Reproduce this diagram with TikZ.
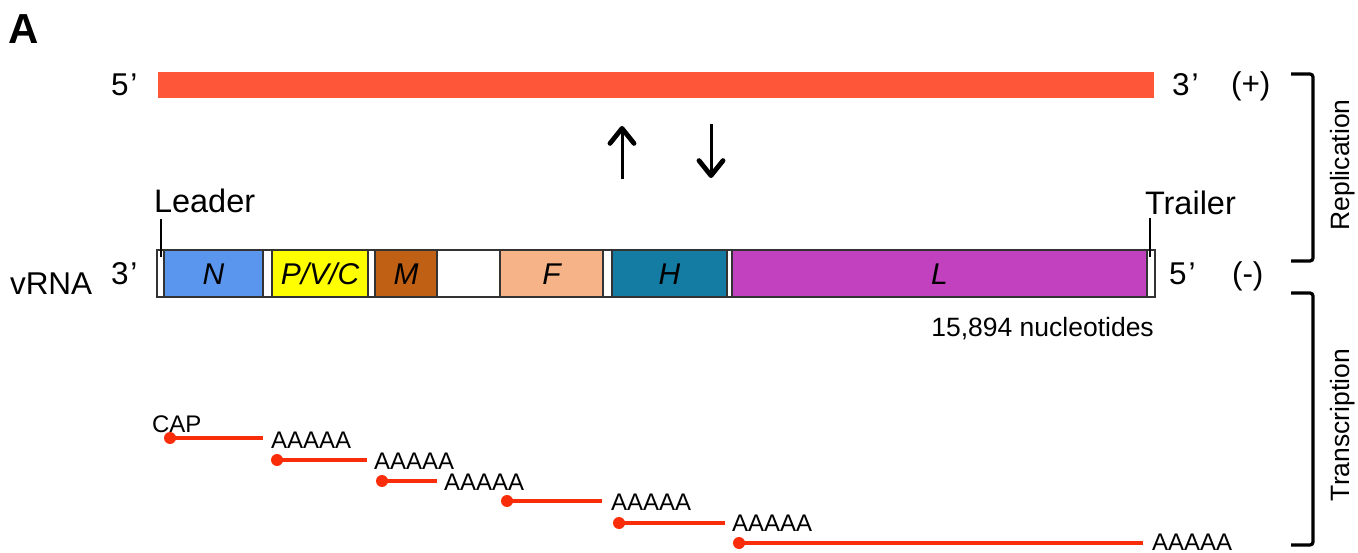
\documentclass[tikz,border=0pt]{standalone}
\usepackage{fontspec}
\setmainfont{Liberation Sans}
\usetikzlibrary{arrows.meta}
\definecolor{plusred}{RGB}{254,86,57}
\definecolor{txred}{RGB}{250,45,10}
\definecolor{gN}{RGB}{91,150,238}
\definecolor{gP}{RGB}{255,255,0}
\definecolor{gM}{RGB}{192,96,20}
\definecolor{gF}{RGB}{247,179,136}
\definecolor{gH}{RGB}{20,123,163}
\definecolor{gL}{RGB}{194,65,190}
\newcommand{\fbig}{\fontsize{31.5}{37}\selectfont}
\newcommand{\flead}{\fontsize{32.5}{38}\selectfont}
\newcommand{\fgene}{\fontsize{30}{36}\selectfont\itshape}
\newcommand{\fmid}{\fontsize{26.5}{32}\selectfont}
\newcommand{\fsmall}{\fontsize{24}{29}\selectfont}
\tikzset{
  lbl/.style={inner sep=0pt, outer sep=0pt, anchor=base west},
  gene/.style={draw=black!80, line width=1.4pt, inner sep=0pt, outer sep=0pt,
    minimum height=47pt, text height=21.5pt, text depth=0pt, font=\fgene},
  tx/.style={draw=txred, line width=4pt},
  dot/.style={circle, fill=txred, inner sep=0pt, minimum size=12pt},
  aaa/.style={lbl, font=\fsmall},
  brk/.style={line width=3.2pt, rounded corners=3pt},
  varrow/.style={line width=3pt, -{Straight Barb[length=15pt, width=24pt, line width=4.8pt, round]}},
  tick/.style={line width=1.6pt}
}
\begin{document}
\begin{tikzpicture}[x=1pt, y=-1pt]
\useasboundingbox (0,0) rectangle (1358,553);
% panel label
\node[lbl, font=\fontsize{42}{50}\selectfont\bfseries] (panel) at (9,44) {A};
% (+) strand
\node[draw=none, fill=plusred, minimum width=996pt, minimum height=26pt, inner sep=0pt, outer sep=0pt] (plus) at (656,85) {};
\node[lbl, font=\fbig] (p5) at (111,96) {5\kern2pt’};
\node[lbl, font=\fbig] (p3) at (1172,96) {3\kern2pt’};
\node[lbl, font=\fbig] (pp) at (1231,95) {(+)};
% replication arrows
\coordinate (ua1) at (622,179);
\coordinate (ua2) at (622,126);
\coordinate (da1) at (711,124);
\coordinate (da2) at (711,178);
\draw[varrow] (ua1) -- (ua2);
\draw[varrow] (da1) -- (da2);
% genome
\node[gene, minimum width=7pt] (lead) at (160.5,273.5) {};
\node[gene, fill=gN, minimum width=99pt] (N) at (213.5,273.5) {N};
\node[gene, minimum width=9pt] (ig1) at (267.5,273.5) {};
\node[gene, fill=gP, minimum width=96pt] (P) at (320,273.5) {P/V/C};
\node[gene, minimum width=7pt] (ig2) at (371.5,273.5) {};
\node[gene, fill=gM, minimum width=62pt] (M) at (406,273.5) {M};
\node[gene, minimum width=63pt] (ig3) at (468.5,273.5) {};
\node[gene, fill=gF, minimum width=103pt] (F) at (551.5,273.5) {F};
\node[gene, minimum width=9pt] (ig4) at (607.5,273.5) {};
\node[gene, fill=gH, minimum width=115pt] (H) at (669.5,273.5) {H};
\node[gene, minimum width=5pt] (ig5) at (729.5,273.5) {};
\node[gene, fill=gL, minimum width=415pt] (L) at (939.5,273.5) {L};
\node[gene, minimum width=8pt] (trail) at (1151,273.5) {};
% leader / trailer
\node[lbl, font=\flead] (leadlbl) at (154,213) {Leader};
\node[lbl, font=\flead] (traillbl) at (1145,215) {Trailer};
\coordinate (lt) at (161,219);
\coordinate (tt) at (1150,218);
\draw[tick] (lt) -- (lt |- 0,257);
\draw[tick] (tt) -- (tt |- 0,257);
% genome labels
\node[lbl, font=\fbig] (vrna) at (10,295) {vRNA};
\node[lbl, font=\fbig] (m3) at (111,285) {3\kern2pt’};
\node[lbl, font=\fbig] (m5) at (1169,285) {5\kern2pt’};
\node[lbl, font=\fbig] (mm) at (1232,285) {(-)};
\node[inner sep=0pt, anchor=base east, font=\fmid] (nt) at (1154,337) {15,894 nucleotides};
% brackets
\coordinate (r1) at (1291,74);
\coordinate (r2) at (1291,261);
\coordinate (t1) at (1291,293);
\coordinate (t2) at (1291,545);
\draw[brk] (r1) -- ++(22,0) |- (r2);
\draw[brk] (t1) -- ++(22,0) |- (t2);
\node[rotate=90, inner sep=0pt, font=\fmid] (repl) at (1343,165) {Replication};
\node[rotate=90, inner sep=0pt, font=\fmid] (trans) at (1343,425) {Transcription};
% transcripts
\node[aaa] (cap) at (152,432) {CAP};
\node[dot] (d1) at (170,438) {};
\node[dot] (d2) at (277,460) {};
\node[dot] (d3) at (382,481) {};
\node[dot] (d4) at (507,501) {};
\node[dot] (d5) at (619,523) {};
\node[dot] (d6) at (739,543) {};
\coordinate (e1) at (263,438);
\coordinate (e2) at (367,460);
\coordinate (e3) at (437,481);
\coordinate (e4) at (602,501);
\coordinate (e5) at (725,523);
\coordinate (e6) at (1143,543);
\draw[tx] (d1.center) -- (e1);
\draw[tx] (d2.center) -- (e2);
\draw[tx] (d3.center) -- (e3);
\draw[tx] (d4.center) -- (e4);
\draw[tx] (d5.center) -- (e5);
\draw[tx] (d6.center) -- (e6);
\node[aaa] (a1) at (271,448) {AAAAA};
\node[aaa] (a2) at (374,469) {AAAAA};
\node[aaa] (a3) at (444,490) {AAAAA};
\node[aaa] (a4) at (611,510) {AAAAA};
\node[aaa] (a5) at (732,531) {AAAAA};
\node[aaa] (a6) at (1152,550.5) {AAAAA};
\end{tikzpicture}
\end{document}
